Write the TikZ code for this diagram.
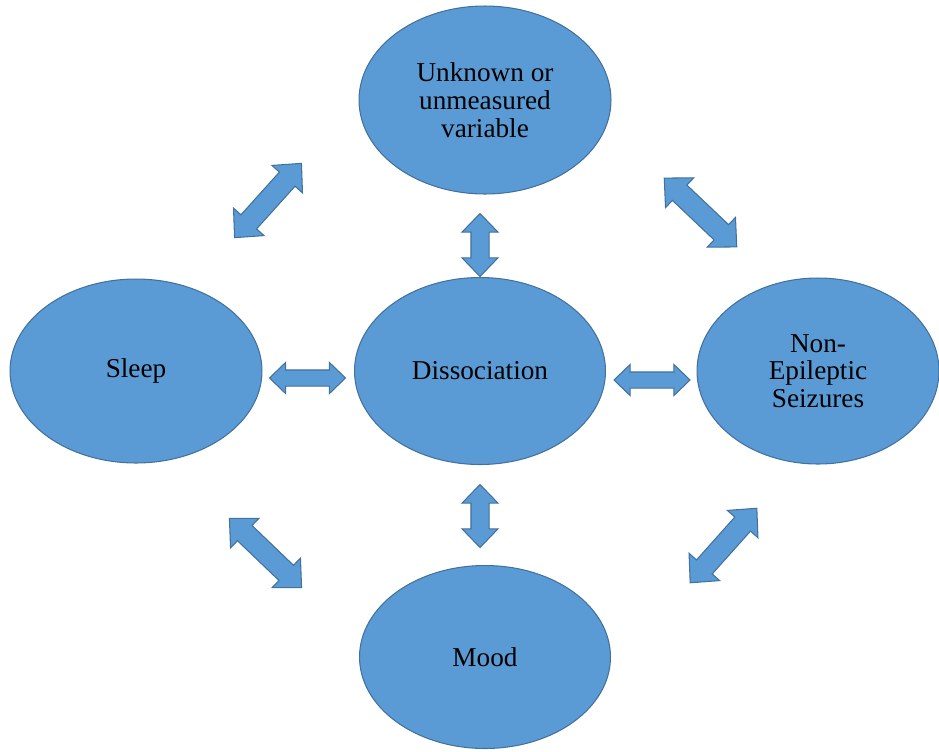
\documentclass[tikz,border=0pt]{standalone}
\usepackage{fontspec}
\setmainfont{Liberation Serif}
\usepackage{tikz}
\usetikzlibrary{shapes.geometric,shapes.arrows}
\definecolor{bubblefill}{RGB}{91,155,213}
\definecolor{bubbleline}{RGB}{65,113,156}

\begin{document}
\begin{tikzpicture}[x=0.02cm,y=-0.02cm,
	every node/.style={draw=bubbleline,fill=bubblefill,line width=0.6pt},
	bubble/.style={ellipse,inner sep=0pt,minimum width=5.04cm,minimum height=3.72cm,
		align=center,font=\fontsize{15.5}{15.8}\selectfont},
	link/.style={double arrow,inner xsep=0pt,double arrow tip angle=88},
	flat/.style={link,minimum height=1.52cm,inner ysep=0.15cm,double arrow head extend=0.15cm},
	upright/.style={link,minimum height=1.26cm,inner ysep=0.17cm,double arrow head extend=0.18cm,rotate=90},
	slant/.style={link,minimum height=2.0cm,inner ysep=0.2cm,double arrow head extend=0.2cm}]
	\useasboundingbox (0,0) rectangle (939,751);

	\node (unknown) at (485,100) [bubble,minimum height=3.76cm] {Unknown or\\unmeasured\\variable};
	\node (sleep) at (136,371) [bubble,minimum height=3.68cm] {Sleep};
	\node (dissoc) at (480,371) [bubble,minimum width=5.02cm,minimum height=3.74cm] {Dissociation};
	\node (seizures) at (818,371) [bubble,minimum width=4.84cm] {Non-\\Epileptic\\Seizures};
	\node (mood) at (485,657) [bubble,minimum width=5.02cm,minimum height=3.66cm] {Mood};

	\node (sd) at (307.5,378) [flat] {};
	\node (ds) at (652,380) [flat] {};
	\node (ud) at (480,245) [upright] {};
	\node (dm) at (480,516) [upright] {};
	\node (su) at (268,200.5) [slant,rotate=48] {};
	\node (un) at (700.5,212.5) [slant,rotate=-43.5] {};
	\node (sm) at (265.5,553) [slant,rotate=-43.8] {};
	\node (mn) at (723.5,545.5) [slant,rotate=48.2] {};
\end{tikzpicture}
\end{document}
